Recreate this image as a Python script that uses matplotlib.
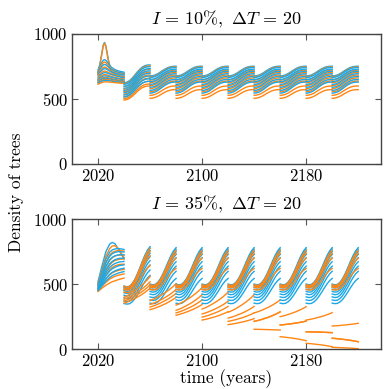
import numpy as np
import matplotlib
matplotlib.use('Agg')
import matplotlib.pyplot as plt

plt.rcParams['font.family'] = 'serif'
plt.rcParams['font.serif'] = ['cmr10', 'DejaVu Serif']
plt.rcParams['mathtext.fontset'] = 'cm'
plt.rcParams['axes.formatter.use_mathtext'] = True

BLUE = '#1ca8e6'
ORANGE = '#ff8614'

cut_years = [2020, 2040, 2060, 2080, 2100, 2120, 2140, 2160, 2180, 2200]
seg_t = [0, 2, 4, 6, 8, 10, 12, 14, 16, 18, 20]

# ---------------- Panel 1: I = 10 %, dT = 20 ----------------
top_first_t = [0, 2, 4, 5, 6, 8, 10, 13, 16, 20]
top_first_blue = [
    [700, 800, 915, 935, 910, 800, 720, 690, 680, 672],
    [725, 765, 798, 803, 798, 772, 746, 726, 715, 706],
    [708, 738, 762, 766, 763, 746, 728, 713, 704, 696],
    [690, 712, 730, 734, 732, 721, 709, 698, 690, 683],
    [668, 686, 700, 703, 702, 696, 688, 679, 671, 664],
    [650, 665, 676, 678, 678, 674, 668, 661, 654, 648],
    [636, 648, 658, 660, 660, 657, 652, 646, 640, 636],
    [622, 633, 641, 643, 643, 641, 638, 634, 630, 627],
]
top_first_orange = [
    [690, 792, 905, 930, 905, 790, 712, 685, 675, 666],
    [715, 750, 780, 784, 780, 757, 733, 716, 705, 696],
    [698, 722, 742, 746, 743, 730, 716, 703, 694, 688],
    [680, 698, 712, 715, 713, 705, 695, 685, 677, 670],
    [658, 674, 686, 688, 687, 682, 674, 666, 659, 654],
    [642, 655, 665, 667, 667, 663, 657, 651, 645, 641],
    [628, 639, 648, 650, 650, 648, 644, 640, 635, 632],
    [614, 623, 630, 632, 632, 631, 629, 626, 623, 621],
]
# second segment (2040-2060)
top_s2_blue_start = [625, 612, 598, 582, 565, 548, 530, 515]
top_s2_blue_end = [762, 748, 733, 716, 697, 676, 655, 636]
top_s2_orange_start = [618, 595, 575, 557, 537, 518, 503, 492]
top_s2_orange_end = [755, 728, 706, 684, 660, 636, 615, 600]
# repeating segments (2060-2220)
top_cyc_blue_start = [677, 665, 650, 633, 612, 590, 566, 545]
top_cyc_blue_end = [752, 742, 729, 713, 694, 673, 650, 630]
top_cyc_orange_start = [670, 645, 625, 603, 580, 555, 528, 505]
top_cyc_orange_end = [747, 722, 704, 684, 662, 638, 600, 572]
top_profile = [0, 0.03, 0.11, 0.24, 0.41, 0.59, 0.75, 0.88, 0.96, 0.995, 1.0]

# ---------------- Panel 2: I = 35 %, dT = 20 ----------------
bot_first_t = [0, 3, 6, 9, 11, 13, 16, 20]
bot_first_blue = [
    [520, 640, 750, 810, 822, 812, 765, 695],
    [505, 600, 695, 748, 765, 772, 775, 768],
    [496, 580, 664, 716, 736, 746, 752, 748],
    [488, 562, 638, 688, 708, 719, 727, 727],
    [480, 546, 612, 658, 677, 689, 699, 702],
    [472, 530, 588, 630, 648, 660, 671, 676],
    [465, 515, 565, 603, 620, 631, 643, 650],
    [458, 501, 544, 577, 593, 603, 615, 624],
    [452, 488, 524, 552, 566, 576, 588, 598],
]
bot_first_orange = [
    [510, 610, 715, 775, 795, 797, 770, 705],
    [500, 585, 670, 725, 745, 755, 760, 755],
    [490, 560, 635, 685, 705, 718, 725, 725],
    [480, 540, 605, 650, 670, 683, 692, 695],
    [470, 520, 572, 612, 630, 642, 652, 655],
    [460, 500, 540, 572, 588, 598, 608, 615],
    [452, 485, 515, 540, 552, 561, 571, 580],
    [445, 470, 492, 510, 520, 527, 537, 548],
]
bot_s2_blue_start = [487, 477, 465, 451, 435, 416, 395, 373, 352]
bot_s2_blue_end = [790, 778, 760, 738, 712, 682, 648, 610, 568]
bot_cyc_blue_start = [502, 490, 477, 462, 445, 425, 403, 380, 355]
bot_cyc_blue_end = [782, 770, 752, 730, 704, 674, 640, 600, 545]
# orange trajectories, segments starting 2040 ... 2200
bot_orange_start = [
    [485, 497, 497, 497, 497, 497, 497, 497, 497],
    [472, 488, 488, 488, 488, 488, 488, 488, 488],
    [460, 478, 478, 478, 478, 478, 478, 478, 478],
    [440, 460, 460, 460, 460, 460, 460, 460, 460],
    [400, 375, 340, 310, 285, 280, 251, 225, 179],
    [385, 345, 300, 272, 240, 215, 187, 135, 85],
    [370, 325, 280, 248, 215, 215, 187, 135, 85],
    [355, 305, 262, 225, 190, 154, 97, 46, 15],
]
bot_orange_end = [
    [776, 762, 762, 762, 762, 762, 762, 762, 762],
    [752, 738, 738, 738, 738, 738, 738, 738, 738],
    [720, 702, 702, 702, 702, 702, 702, 702, 702],
    [645, 622, 622, 622, 622, 622, 622, 622, 622],
    [560, 505, 475, 440, 420, 380, 328, 282, 200],
    [520, 460, 420, 370, 330, 288, 217, 128, 58],
    [495, 430, 380, 330, 280, 288, 217, 128, 58],
    [470, 400, 345, 290, 236, 148, 66, 20, 5],
]
bot_profile = [0, -0.02, -0.01, 0.05, 0.15, 0.29, 0.45, 0.62, 0.78, 0.91, 1.0]
low_profile = [0, 0.06, 0.13, 0.21, 0.30, 0.39, 0.49, 0.60, 0.72, 0.85, 1.0]

LW = 1.0


def draw_seg(ax, t0, start, end, prof, color):
    if np.isnan(start):
        return
    x = t0 + np.asarray(seg_t, dtype=float)
    y = start + (end - start) * np.asarray(prof, dtype=float)
    ax.plot(x, y, color=color, lw=LW)


fig = plt.figure(figsize=(3.84, 3.89), dpi=100)
ax1 = fig.add_axes([72 / 384, 1 - 164 / 389, 309 / 384, 130 / 389])
ax2 = fig.add_axes([72 / 384, 1 - 349.3 / 389, 309 / 384, 130 / 389])

# panel 1
for b, o in zip(top_first_blue, top_first_orange):
    ax1.plot(cut_years[0] + np.asarray(top_first_t), b, color=BLUE, lw=LW)
    ax1.plot(cut_years[0] + np.asarray(top_first_t), o, color=ORANGE, lw=LW)
for i in range(len(top_s2_blue_start)):
    draw_seg(ax1, cut_years[1], top_s2_blue_start[i], top_s2_blue_end[i], top_profile, BLUE)
    draw_seg(ax1, cut_years[1], top_s2_orange_start[i], top_s2_orange_end[i], top_profile, ORANGE)
for t0 in cut_years[2:]:
    for i in range(len(top_cyc_blue_start)):
        draw_seg(ax1, t0, top_cyc_blue_start[i], top_cyc_blue_end[i], top_profile, BLUE)
        draw_seg(ax1, t0, top_cyc_orange_start[i], top_cyc_orange_end[i], top_profile, ORANGE)

# panel 2
for i in range(max(len(bot_first_blue), len(bot_first_orange))):
    if i < len(bot_first_blue):
        ax2.plot(cut_years[0] + np.asarray(bot_first_t), bot_first_blue[i], color=BLUE, lw=LW)
    if i < len(bot_first_orange):
        ax2.plot(cut_years[0] + np.asarray(bot_first_t), bot_first_orange[i], color=ORANGE, lw=LW)
for k, t0 in enumerate(cut_years[1:]):
    bs = bot_s2_blue_start if k == 0 else bot_cyc_blue_start
    be = bot_s2_blue_end if k == 0 else bot_cyc_blue_end
    for i in range(len(bs)):
        draw_seg(ax2, t0, bs[i], be[i], bot_profile, BLUE)
    for j in range(len(bot_orange_start)):
        prof = bot_profile if j < 4 else low_profile
        draw_seg(ax2, t0, bot_orange_start[j][k], bot_orange_end[j][k], prof, ORANGE)

titles = [r'$I\,=\,10\%,\ \Delta T\,=\,20$', r'$I\,=\,35\%,\ \Delta T\,=\,20$']
for ax, title in zip([ax1, ax2], titles):
    ax.set_xlim(2000, 2237.5)
    ax.set_ylim(0, 1000)
    ax.set_xticks([2020, 2100, 2180])
    ax.set_yticks([0, 500, 1000])
    ax.tick_params(direction='in', top=True, right=True, length=4, width=0.8,
                   labelsize=12, pad=3, color='#555555')
    for s in ax.spines.values():
        s.set_color('#444444')
        s.set_linewidth(1.0)
    ax.set_title(title, fontsize=13, pad=7)

fig.text(16 / 384, 1 - 192 / 389, 'Density of trees', rotation=90,
         ha='center', va='center', fontsize=12.5)
fig.text(226.5 / 384, 1 - 379 / 389, 'time (years)', ha='center', va='center',
         fontsize=12.5)

fig.savefig('out.png', dpi=100)
